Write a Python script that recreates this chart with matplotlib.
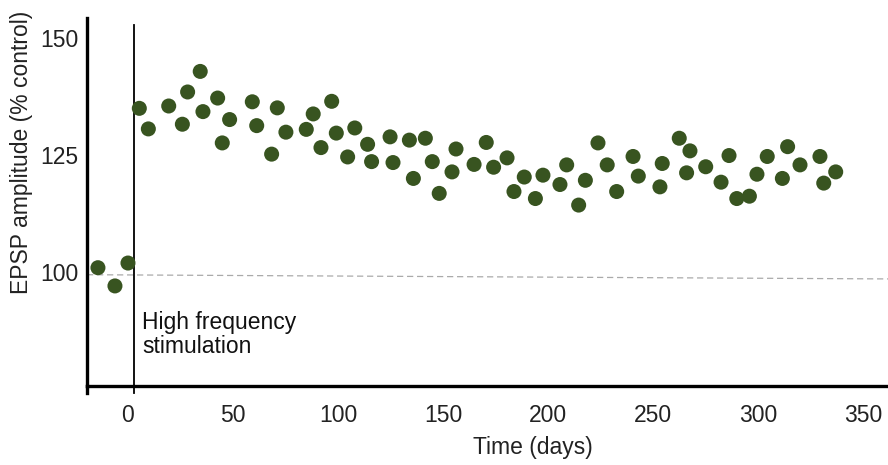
import matplotlib
matplotlib.use("Agg")
import matplotlib.pyplot as plt

plt.rcParams['font.family'] = ['Liberation Sans', 'DejaVu Sans']

# baseline recordings (before stimulation)
pre_days = [-14.3, -6.2, 0.0]
pre_amp = [100.9, 97.0, 101.9]

# recordings after high frequency stimulation
post_days = [5.4, 9.7, 19.4, 25.9, 28.4, 34.4, 35.7, 42.7, 48.4, 44.9,
             59.2, 61.3, 71.1, 68.4, 75.2, 84.9, 88.2, 97.0, 91.9, 99.2,
             108.0, 104.6, 114.1, 116.0, 124.8, 126.2, 134.0, 135.9, 141.6, 144.9,
             148.2, 156.2, 154.3, 164.8, 170.6, 174.1, 180.5, 183.8, 188.7, 194.0,
             197.6, 205.7, 208.9, 214.6, 217.8, 223.8, 228.2, 232.7, 240.5, 243.0,
             254.4, 253.3, 262.5, 267.6, 266.0, 275.1, 282.4, 286.2, 289.9, 295.9,
             299.5, 304.4, 311.6, 314.1, 320.0, 329.5, 331.3, 337.0]
post_amp = [135.0, 130.6, 135.5, 131.6, 138.5, 142.9, 134.3, 137.2, 132.6, 127.6,
            136.4, 131.3, 135.1, 125.2, 129.9, 130.5, 133.8, 136.5, 126.6, 129.7,
            130.8, 124.6, 127.3, 123.6, 128.9, 123.4, 128.2, 120.0, 128.6, 123.6,
            116.8, 126.3, 121.4, 123.0, 127.7, 122.4, 124.4, 117.2, 120.3, 115.7,
            120.7, 118.7, 122.9, 114.3, 119.6, 127.6, 122.9, 117.2, 124.7, 120.5,
            123.2, 118.2, 128.6, 125.9, 121.2, 122.5, 119.2, 124.9, 115.7, 116.2,
            120.9, 124.7, 120.0, 126.8, 122.9, 124.7, 119.0, 121.4]

x_ticks = [0, 50, 100, 150, 200, 250, 300, 350]
y_ticks = [100, 125, 150]
stim_day = 3
baseline = [99.4, 98.5]   # dashed control level, left and right end

xmin, xmax = -19.5, 361.9
ymin, ymax = 75.6, 154.3
green = '#385420'

fig = plt.figure(figsize=(8.88, 4.65), dpi=100)
ax = fig.add_axes([0.098, 0.170, 0.902, 0.791])

# data points
ax.scatter(pre_days, pre_amp, s=117, color=green, edgecolors='none', zorder=3)
ax.scatter(post_days, post_amp, s=117, color=green, edgecolors='none', zorder=3)

# control level and stimulation marker
ax.plot([xmin, xmax], baseline, color='#aaaaaa', lw=0.9, ls=(0, (5, 3)), zorder=1)
ax.axvline(stim_day, ymin=-0.019, ymax=0.981, color='black', lw=1.3, clip_on=False, zorder=2)
ax.axvline(xmin, ymin=-0.019, ymax=0, color='black', lw=2.4, clip_on=False)

ax.text(6.7, 91.7, 'High frequency\nstimulation', fontsize=16.5, ha='left', va='top',
        linespacing=1.05, color='#111111')

ax.set_xlim(xmin, xmax)
ax.set_ylim(ymin, ymax)
ax.set_xticks(x_ticks)
ax.set_yticks(y_ticks)
ax.tick_params(axis='x', length=0, pad=13, labelsize=16.5, colors='#222222')
ax.tick_params(axis='y', length=0, pad=6, labelsize=16.5, colors='#222222')

for side in ['top', 'right']:
    ax.spines[side].set_visible(False)
for side in ['left', 'bottom']:
    ax.spines[side].set_linewidth(2.4)

ax.set_xlabel('Time (days)', fontsize=16.5, color='#222222')
ax.set_ylabel('EPSP amplitude (% control)', fontsize=16.5, color='#222222')
ax.xaxis.set_label_coords(0.557, -0.135)
ax.yaxis.set_label_coords(-0.068, 0.636)

fig.savefig('out.png', dpi=100)
